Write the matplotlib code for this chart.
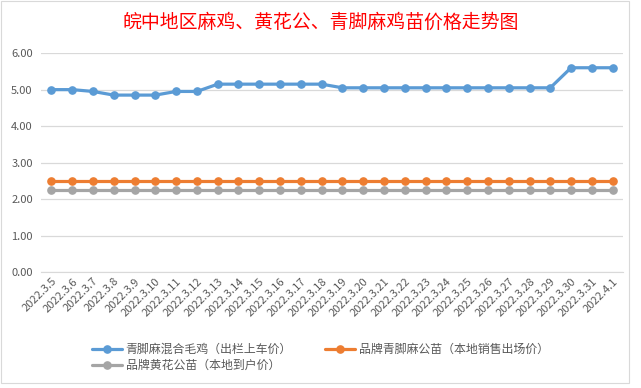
import matplotlib
matplotlib.use("Agg")
import matplotlib.pyplot as plt
from matplotlib.ticker import FormatStrFormatter
from matplotlib.patches import Rectangle

plt.rcParams['font.family'] = ['Noto Sans CJK SC', 'DejaVu Sans']

dates = ["2022.3.5", "2022.3.6", "2022.3.7", "2022.3.8", "2022.3.9", "2022.3.10",
         "2022.3.11", "2022.3.12", "2022.3.13", "2022.3.14", "2022.3.15", "2022.3.16",
         "2022.3.17", "2022.3.18", "2022.3.19", "2022.3.20", "2022.3.21", "2022.3.22",
         "2022.3.23", "2022.3.24", "2022.3.25", "2022.3.26", "2022.3.27", "2022.3.28",
         "2022.3.29", "2022.3.30", "2022.3.31", "2022.4.1"]

mixed_chicken = [5.00, 5.00, 4.95, 4.85, 4.85, 4.85, 4.95, 4.95,
                 5.15, 5.15, 5.15, 5.15, 5.15, 5.15,
                 5.05, 5.05, 5.05, 5.05, 5.05, 5.05, 5.05, 5.05, 5.05, 5.05, 5.05,
                 5.60, 5.60, 5.60]
qingjiao_chick = [2.50] * 28
huanghua_chick = [2.25] * 28

names = ["青脚麻混合毛鸡（出栏上车价）", "品牌青脚麻公苗（本地销售出场价）", "品牌黄花公苗（本地到户价）"]
colors = ["#5B9BD5", "#ED7D31", "#A5A5A5"]

fig = plt.figure(figsize=(6.41, 3.88), dpi=100)
ax = fig.add_axes([0.064, 0.299, 0.908, 0.564])

x = list(range(len(dates)))
handles = []
for vals, name, c in zip([mixed_chicken, qingjiao_chick, huanghua_chick], names, colors):
    h, = ax.plot(x, vals, color=c, linewidth=2.3, marker="o", markersize=5.2,
                 label=name, solid_capstyle="round")
    handles.append(h)

ax.set_xlim(-0.5, len(dates) - 0.5)
ax.set_ylim(0, 6)
ax.set_yticks([0, 1, 2, 3, 4, 5, 6])
ax.yaxis.set_major_formatter(FormatStrFormatter("%.2f"))
ax.grid(axis="y", color="#D9D9D9", linewidth=0.9)
ax.set_axisbelow(True)
for s in ["top", "right", "left"]:
    ax.spines[s].set_visible(False)
ax.spines["bottom"].set_color("#D9D9D9")
ax.tick_params(axis="y", length=0, labelsize=8, labelcolor="#595959", pad=6)
ax.tick_params(axis="x", length=0, labelsize=8, labelcolor="#595959", pad=3)
ax.set_xticks(x)
ax.set_xticklabels(dates, rotation=45, ha="right", va="top", rotation_mode="anchor")

fig.text(0.5, 1 - 22 / 388, "皖中地区麻鸡、黄花公、青脚麻鸡苗价格走势图",
         color="#FF0000", fontsize=13.6, ha="center", va="center")

fig.legend([handles[0], handles[2], handles[1]], [names[0], names[2], names[1]],
           ncol=2, loc="upper center", bbox_to_anchor=(0.5, 1 - 332 / 388),
           frameon=False, fontsize=8.6, handlelength=2.5, handletextpad=0.3,
           columnspacing=2.8, labelspacing=0.25, labelcolor="#595959")

fig.patches.append(Rectangle((0.002, 0.012), 0.98, 0.985, transform=fig.transFigure,
                             fill=False, edgecolor="#D9D9D9", linewidth=0.8))

fig.savefig("out.png", dpi=100)
